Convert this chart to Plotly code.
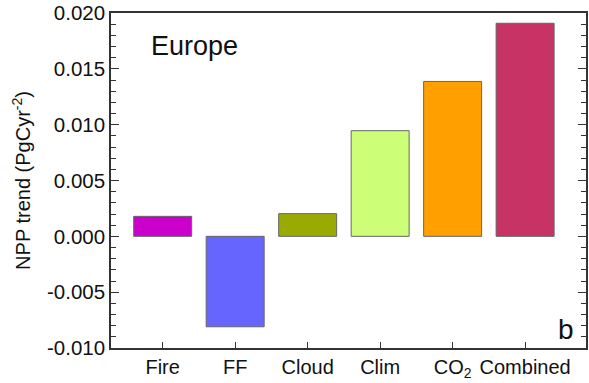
import plotly.graph_objects as go

categories = ["Fire", "FF", "Cloud", "Clim", "CO2", "Combined"]
x_tick_labels = ["Fire", "FF", "Cloud", "Clim", "CO<sub>2</sub>", "Combined"]
npp_trend = [0.00179, -0.0081, 0.00203, 0.00946, 0.01387, 0.01908]
bar_colors = ["#CC00CC", "#6666FF", "#99AA00", "#CCFF77", "#FF9F00", "#C83366"]
y_tick_values = [-0.010, -0.005, 0.000, 0.005, 0.010, 0.015, 0.020]
y_tick_labels = ["-0.010", "-0.005", "0.000", "0.005", "0.010", "0.015", "0.020"]

FONT = "Liberation Sans, Arial, Helvetica, sans-serif"

fig = go.Figure()
fig.add_trace(go.Bar(
    x=categories, y=npp_trend, width=0.8,
    marker=dict(color=bar_colors, line=dict(color="#666666", width=1)),
    showlegend=False,
))

fig.update_layout(
    width=589, height=383,
    margin=dict(l=111, r=3, t=12.5, b=35, autoexpand=False),
    paper_bgcolor="white", plot_bgcolor="white",
    font=dict(family=FONT, color="#111111"),
    annotations=[
        dict(text="Europe", x=0.08, y=0.90, xref="paper", yref="paper",
             xanchor="left", yanchor="middle", showarrow=False,
             font=dict(size=27, family=FONT, color="#111111")),
        dict(text="b", x=0.957, y=0.055, xref="paper", yref="paper",
             xanchor="center", yanchor="middle", showarrow=False,
             font=dict(size=28, family=FONT, color="#111111")),
    ],
)

fig.update_xaxes(
    type="category", range=[-0.713, 5.84], automargin=False,
    tickmode="array", tickvals=categories, ticktext=x_tick_labels,
    ticks="inside", ticklen=6, tickcolor="#333333", tickwidth=1,
    showline=True, linecolor="#333333", linewidth=1.5, mirror=True,
    showgrid=False, zeroline=False,
    tickfont=dict(size=20, family=FONT, color="#111111"),
)
fig.update_yaxes(
    range=[-0.010, 0.020], automargin=False,
    tickmode="array", tickvals=y_tick_values, ticktext=y_tick_labels,
    ticks="inside", ticklen=8, tickcolor="#333333", tickwidth=1,
    minor=dict(dtick=0.001, ticks="inside", ticklen=5, tickcolor="#333333"),
    showline=True, linecolor="#333333", linewidth=1.5, mirror="ticks",
    showgrid=False, zeroline=False,
    tickfont=dict(size=20.5, family=FONT, color="#111111"),
    title=dict(text="NPP trend (PgCyr<sup>-2</sup>)", standoff=11,
               font=dict(size=20, family=FONT, color="#111111")),
)

fig.write_html(
    "out.html",
    config={"displayModeBar": False},
    post_script="document.body.style.margin='0';document.body.style.padding='0';",
)
